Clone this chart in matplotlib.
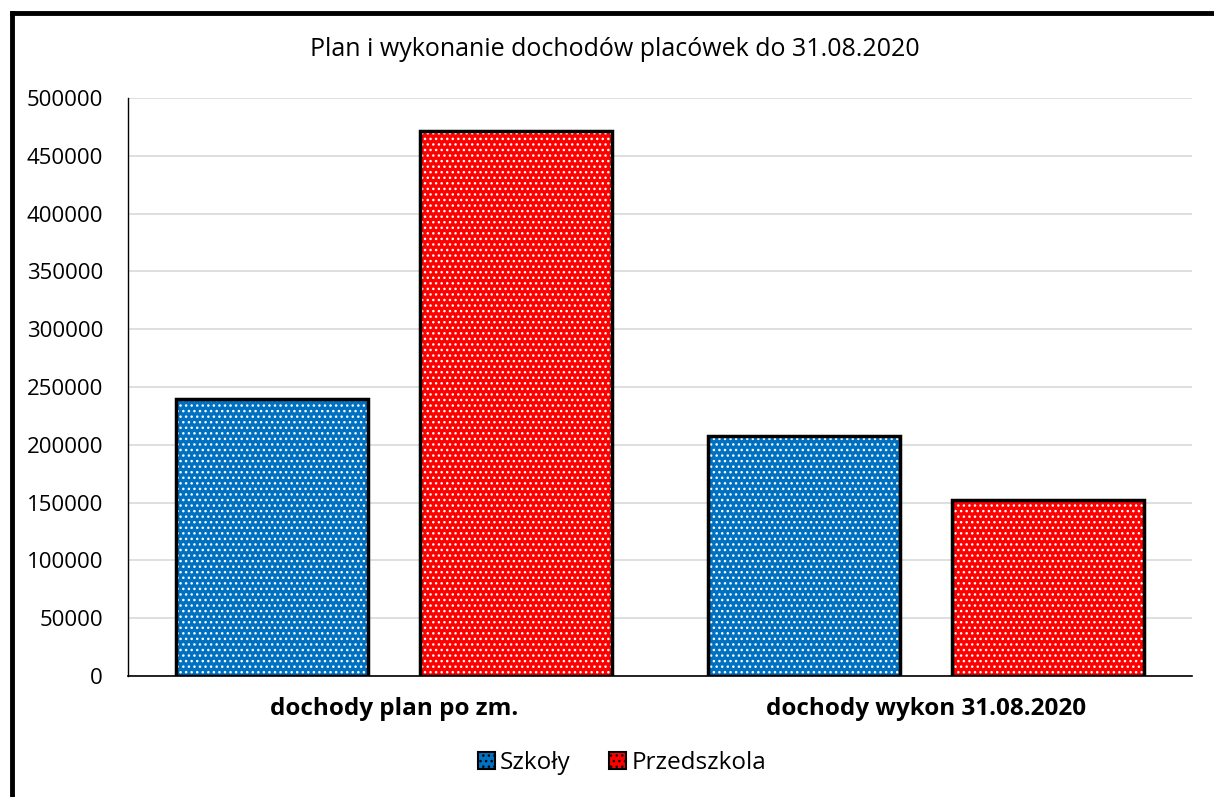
import numpy as np
import matplotlib.pyplot as plt
from matplotlib.patches import Patch
from matplotlib.lines import Line2D

categories = ["dochody plan po zm.", "dochody wykon 31.08.2020"]
series = ["Szkoły", "Przedszkola"]
szkoly = [239600, 207600]
przedszkola = [471400, 152200]
colors = ["#0070c0", "#ff0000"]

plt.rcParams['font.family'] = ['Open Sans', 'DejaVu Sans']
plt.rcParams['hatch.linewidth'] = 1.0

fig = plt.figure(figsize=(12.14, 7.97), dpi=100)
W, H = 1214, 797
ax = fig.add_axes([128 / W, 1 - 676 / H, (1192 - 128) / W, (676 - 98) / H])

x = np.arange(len(categories))
bw = 0.361
off = 0.23
for vals, col, d in [(szkoly, colors[0], -off), (przedszkola, colors[1], off)]:
    # fill with white dotted hatch, then black outline on top
    ax.bar(x + d, vals, bw, color=col, edgecolor="white", hatch="...", linewidth=0, zorder=2)
    ax.bar(x + d, vals, bw, fill=False, edgecolor="black", linewidth=2.5, zorder=3)

ax.set_xlim(-0.5, 1.5)
ax.set_ylim(0, 500000)
ax.set_yticks(np.arange(0, 500001, 50000))
ax.set_yticklabels([str(v) for v in range(0, 500001, 50000)], fontsize=16)
ax.set_xticks(x)
ax.set_xticklabels(categories, fontsize=17.5, fontweight="bold")
ax.tick_params(axis="both", length=0)
ax.tick_params(axis="y", pad=18)
ax.tick_params(axis="x", pad=15)
ax.grid(axis="y", color="#d9d9d9", linewidth=1.2, zorder=0)
ax.set_axisbelow(True)
for s in ["top", "right"]:
    ax.spines[s].set_visible(False)
ax.spines["left"].set_color("black")
ax.spines["left"].set_linewidth(1)
ax.spines["bottom"].set_color("black")
ax.spines["bottom"].set_linewidth(1.2)

fig.text(615 / W, 1 - 49 / H, "Plan i wykonanie dochodów placówek do 31.08.2020",
         ha="center", va="center", fontsize=18)

handles = [Patch(facecolor=c, edgecolor="black", hatch="...", linewidth=1.5) for c in colors]
fig.legend(handles, series, loc="center", bbox_to_anchor=(622 / W, 1 - 763 / H), ncol=2,
           frameon=False, fontsize=17.5, handlelength=0.7, handleheight=0.7,
           handletextpad=0.2, columnspacing=1.6)

# outer frame (left and top edges visible)
fig.add_artist(Line2D([12 / W, 12 / W], [1 - 13 / H, -0.1], color="black", linewidth=3.5,
                      transform=fig.transFigure))
fig.add_artist(Line2D([12 / W, 1.1], [1 - 13 / H, 1 - 13 / H], color="black", linewidth=3.5,
                      transform=fig.transFigure))

fig.savefig("out.png", dpi=100)
